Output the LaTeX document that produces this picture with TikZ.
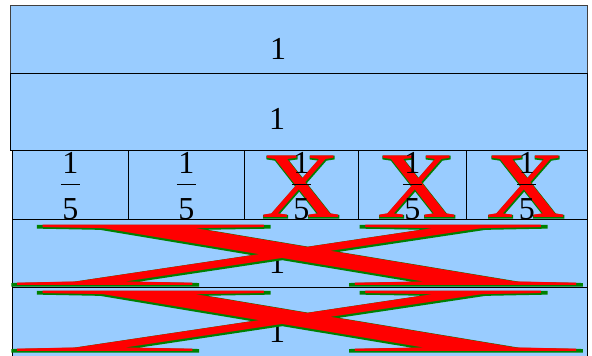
\documentclass[tikz,border=0pt]{standalone}
\usepackage{fontspec}
\setmainfont{Liberation Serif}
\newfontfamily\crossfont[FakeBold=1.5]{Liberation Serif}
\definecolor{barblue}{HTML}{99CCFF}
\definecolor{crossgreen}{HTML}{008000}
\tikzset{
  bar/.style={draw=black,line width=0.9pt,fill=barblue,inner sep=0pt},
  num/.style={font=\fontsize{32}{36}\selectfont,anchor=base,inner sep=0pt},
  frac/.style={font=\fontsize{32}{36}\selectfont,anchor=north,inner sep=0pt},
  crossline/.style={font=\fontsize{97}{100}\crossfont,text=crossgreen,anchor=base,inner sep=0pt,transform shape},
  crossfill/.style={font=\fontsize{97}{100}\selectfont,text=red,anchor=base,inner sep=0pt,transform shape}
}
\newcommand{\onefifth}{\vbox{\hbox to 19pt{\hfil 1\hfil}\kern11pt
  \hrule height 0.8pt\kern13pt\hbox to 19pt{\hfil 5\hfil}}}

\begin{document}
\begin{tikzpicture}[x=1pt,y=1pt]
  \useasboundingbox (0,0) rectangle (592,356);
  % the two wholes
  \node[bar,draw=black!75,anchor=north west,minimum width=577pt,minimum height=68pt] (whole1) at (10,351) {};
  \node[bar,anchor=north west,minimum width=577pt,minimum height=77pt] (whole2) at (10,283) {};
  % five fifths
  \foreach \a/\b [count=\i] in {12/128,128/244,244/358,358/466,466/587}
    \node[bar,anchor=north west,minimum width={(\b-\a)*1pt},minimum height=69pt] (fifth\i) at (\a,206) {};
  % two more wholes
  \node[bar,anchor=north west,minimum width=575pt,minimum height=68pt] (whole4) at (12,137) {};
  \node[bar,anchor=north west,minimum width=575pt,minimum height=69pt] (whole5) at (12,69) {};
  % crossed-out fifths
  \foreach \x [count=\i] in {301,417,526} {
    \begin{scope}[shift={(\x,138)},xscale=1.13,yscale=0.97]
      \node[crossline] (xback\i) at (0,0) {X};
      \node[crossfill] (xfront\i) at (0,0) {X};
    \end{scope}
  }
  \foreach \i in {1,...,5}
    \node[frac] (part\i) at ([yshift=-2pt]fifth\i.north) {\onefifth};
  \node[num] (one1) at (278,296) {1};
  \node[num] (one2) at (277,226) {1};
  \node[num] (one4) at (277,82) {1};
  \node[num] (one5) at (277,13) {1};
  % crossed-out wholes
  \foreach \y/\n in {70/4,4/5} {
    \begin{scope}[shift={(295.5,\y)},xscale=8.45,yscale=0.95]
      \node[crossline] (bigback\n) at (0,0) {X};
      \node[crossfill] (bigfront\n) at (0,0) {X};
    \end{scope}
  }
\end{tikzpicture}
\end{document}
